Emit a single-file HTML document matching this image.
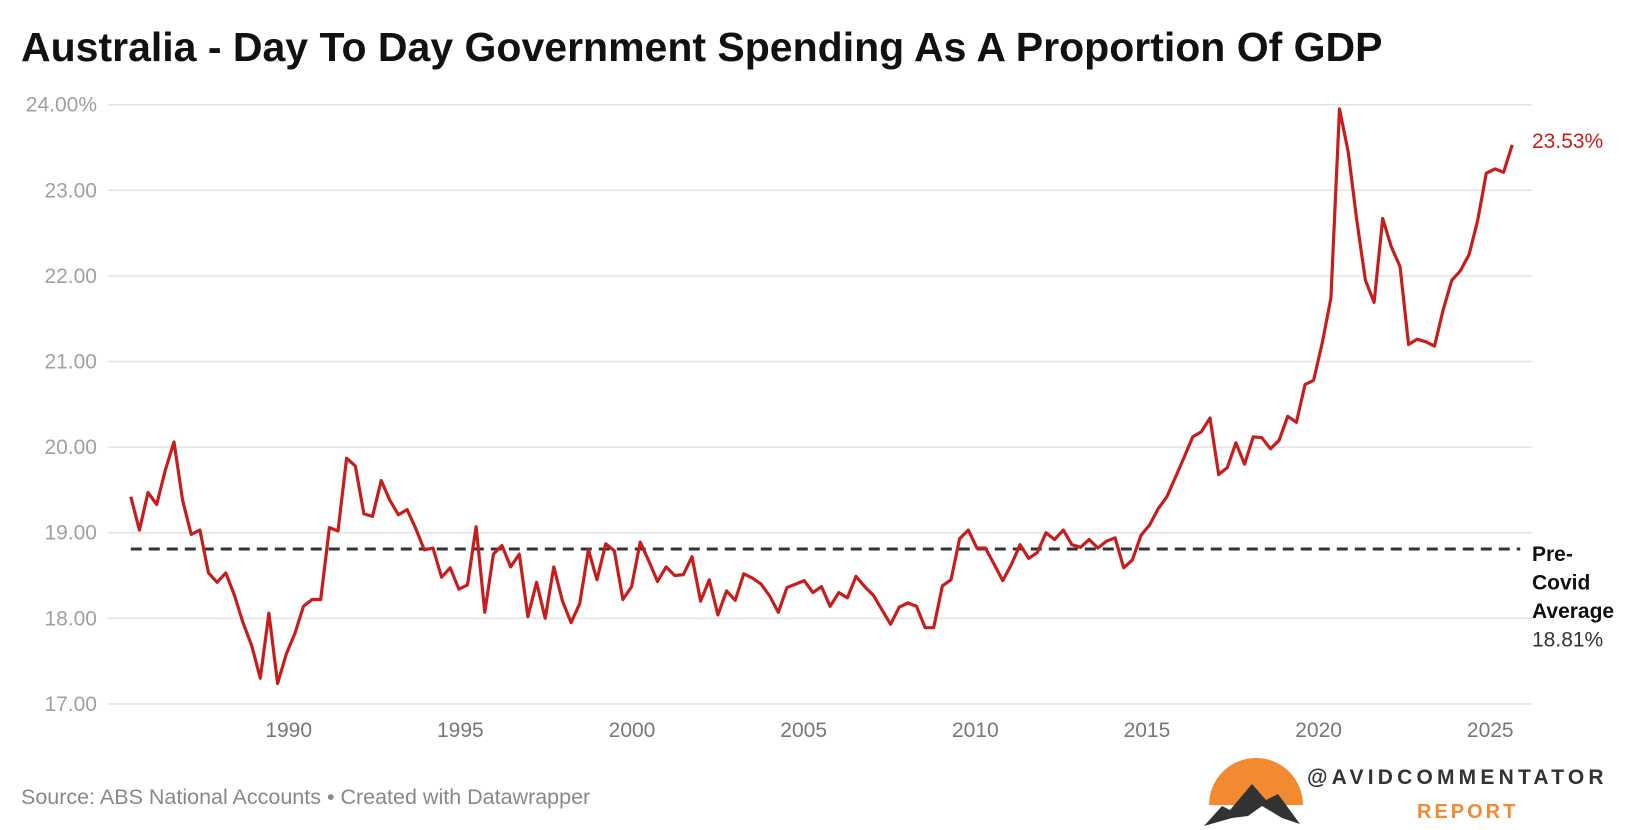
<!DOCTYPE html>
<html><head><meta charset="utf-8">
<style>
body{margin:0;background:#fff;width:1640px;height:830px;overflow:hidden;font-family:"Liberation Sans",sans-serif}
svg{display:block}
</style></head>
<body>
<svg id="chart" width="1640" height="830">
<text x="21" y="61" font-size="41" font-weight="bold" fill="#111">Australia - Day To Day Government Spending As A Proportion Of GDP</text>
<g id="grid"></g><g id="xaxis"></g><g id="series"></g>
<text x="21" y="804" font-size="21.5" fill="#888">Source: ABS National Accounts • Created with Datawrapper</text>
<g>
<path d="M1209 805 A47 47 0 0 1 1303 805 Z" fill="#f28a32"/>
<path d="M1204 826 L1222 806 L1230 810 L1252 784 L1266 800 L1278 794 L1300 824 L1282 818 L1262 806 L1248 816 L1232 818 Z" fill="#333"/>
<text x="1307" y="784" font-size="21" font-weight="bold" fill="#333" letter-spacing="4.2">@AVIDCOMMENTATOR</text>
<text x="1417" y="818" font-size="20" font-weight="bold" fill="#f28a32" letter-spacing="3">REPORT</text>
</g>
</svg>
<script>
const values=[19.42,19.03,19.47,19.33,19.73,20.06,19.38,18.98,19.03,18.53,18.42,18.53,18.27,17.95,17.68,17.30,18.06,17.24,17.58,17.82,18.14,18.22,18.22,19.06,19.02,19.87,19.78,19.22,19.19,19.61,19.38,19.21,19.27,19.05,18.80,18.82,18.48,18.59,18.34,18.39,19.07,18.07,18.75,18.85,18.60,18.75,18.02,18.42,18.00,18.60,18.20,17.95,18.17,18.80,18.45,18.87,18.79,18.22,18.37,18.89,18.67,18.43,18.60,18.50,18.51,18.72,18.20,18.45,18.04,18.32,18.21,18.52,18.47,18.40,18.26,18.07,18.36,18.40,18.44,18.30,18.37,18.14,18.30,18.24,18.49,18.37,18.27,18.10,17.93,18.13,18.18,18.14,17.89,17.89,18.38,18.45,18.93,19.03,18.82,18.82,18.63,18.44,18.63,18.86,18.70,18.77,19.00,18.92,19.03,18.86,18.83,18.92,18.82,18.90,18.94,18.59,18.68,18.97,19.09,19.28,19.42,19.65,19.88,20.12,20.18,20.34,19.68,19.76,20.05,19.80,20.12,20.11,19.98,20.08,20.36,20.29,20.73,20.78,21.22,21.74,23.95,23.45,22.65,21.95,21.69,22.67,22.34,22.11,21.20,21.26,21.23,21.18,21.60,21.95,22.06,22.25,22.65,23.20,23.25,23.21,23.53];
const startYear=1985.4;
const quarterStep=0.2515;
const yTicks=[17,18,19,20,21,22,23,24];
const yTickLabels=["17.00","18.00","19.00","20.00","21.00","22.00","23.00","24.00%"];
const xTicks=[1990,1995,2000,2005,2010,2015,2020,2025];
const preCovidAvg=[18.81];
const lastLabel=["23.53%"];

const NS="http://www.w3.org/2000/svg";
const X=yr=>288.7+(yr-1990)*34.33;
const Y=v=>104.7+(24-v)*85.6;
function mk(tag,attrs,parent,text){const e=document.createElementNS(NS,tag);for(const k in attrs)e.setAttribute(k,attrs[k]);if(text!==undefined)e.textContent=text;parent.appendChild(e);return e;}
const grid=document.getElementById('grid'),xa=document.getElementById('xaxis'),ser=document.getElementById('series');
yTicks.forEach((t,i)=>{
  const l=mk('line',{x1:108,x2:1532,y1:Y(t),y2:Y(t),stroke:'#e3e3e3','stroke-width':1.5},grid);
  
  
  const tx=mk('text',{x:97,y:Y(t)+7,'text-anchor':'end','font-size':21,fill:'#a0a0a0'},grid,yTickLabels[i]);
  
  
});
xTicks.forEach(t=>{
  const tx=mk('text',{x:X(t),y:737,'text-anchor':'middle','font-size':21,fill:'#777'},xa,String(t));
  
  
});
const firstX=X(startYear),lastX=X(startYear+(values.length-1)*quarterStep);
const avg=mk('line',{x1:firstX,x2:lastX+8,y1:Y(preCovidAvg[0]),y2:Y(preCovidAvg[0]),stroke:'#333','stroke-width':3,'stroke-dasharray':'11 7'},ser);


const pts=values.map((v,i)=>X(startYear+i*quarterStep).toFixed(1)+','+Y(v).toFixed(1)).join(' ');
const pl=mk('polyline',{points:pts,fill:'none',stroke:'#c71e1d','stroke-width':3.2,'stroke-linejoin':'round'},ser);


const ll=mk('text',{x:1532,y:Y(values[values.length-1])+3,'font-size':21,fill:'#c71e1d'},ser,lastLabel[0]);


const ay=Y(preCovidAvg[0]);
[['Pre-',true],['Covid',true],['Average',true],[preCovidAvg[0].toFixed(2)+'%',false]].forEach((p,i)=>{
  const t=mk('text',{x:1532,y:ay+12+i*28.5,'font-size':21,'font-weight':p[1]?'bold':'normal',fill:p[1]?'#111':'#333'},ser,p[0]);
  
  
});
</script>
</body></html>
